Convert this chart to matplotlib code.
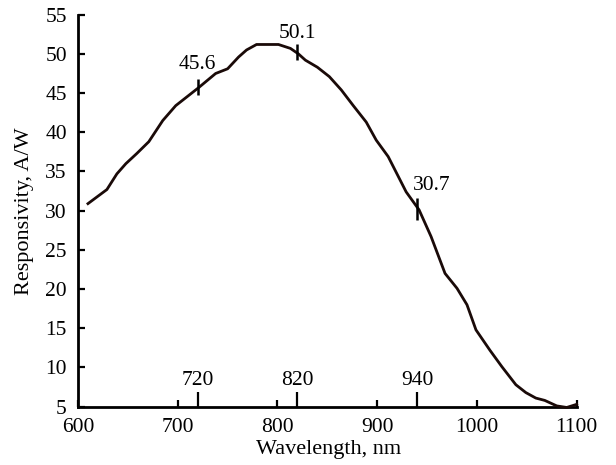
import matplotlib
matplotlib.use("Agg")
import matplotlib.pyplot as plt

plt.rcParams['font.family'] = ['Liberation Serif', 'DejaVu Serif']

wavelength = [610, 629, 639, 648, 659, 671, 685, 698, 721, 738, 750, 761, 769, 779,
              801, 813, 821, 828, 840, 852, 864, 876, 889, 899, 911, 929, 942, 954,
              968, 980, 990, 999, 1013, 1025, 1039, 1049, 1059, 1068, 1080, 1090, 1100]
responsivity = [30.9, 32.7, 34.7, 36.0, 37.3, 38.8, 41.5, 43.4, 45.7, 47.5, 48.1, 49.6, 50.5, 51.2,
                51.2, 50.7, 50.0, 49.2, 48.3, 47.1, 45.4, 43.4, 41.3, 39.0, 36.9, 32.4, 30.1, 26.7,
                22.0, 20.1, 18.0, 14.8, 12.2, 10.1, 7.8, 6.8, 6.1, 5.8, 5.1, 4.9, 5.3]

marked_wl = [720, 820, 940]
marked_y = [45.8, 50.3, 30.2]
marked_labels = ["45.6", "50.1", "30.7"]

x_major = [700, 800, 900, 1000, 1100]
x_special = [720, 820, 940]
y_ticks = [5, 10, 15, 20, 25, 30, 35, 40, 45, 50, 55]

FS = 15.5
LFS = 16

fig = plt.figure(figsize=(6.16, 4.65), dpi=100)
ax = fig.add_axes([0.1266, 0.1254, 0.8096, 0.843])

ax.plot(wavelength, responsivity, color='#1a0a08', lw=2.0, solid_joinstyle='round',
        clip_on=False, zorder=3)

mark_sizes = [11, 11, 16.5]
label_offsets = [(0, 12.5), (0, 9.5), (-3, 13.7)]
label_has = ['center', 'center', 'left']
for wl, yv, lab, ms, off, ha in zip(marked_wl, marked_y, marked_labels,
                                     mark_sizes, label_offsets, label_has):
    ax.plot([wl], [yv], ls='none', marker='|', markersize=ms, markeredgewidth=1.8,
            color='black', zorder=4)
    ax.annotate(lab, (wl, yv), xytext=off, textcoords='offset points',
                ha=ha, va='baseline', fontsize=FS)

ax.set_xlim(600, 1100)
ax.set_ylim(5, 55)
for s in ['top', 'right']:
    ax.spines[s].set_visible(False)
for s in ['left', 'bottom']:
    ax.spines[s].set_linewidth(2.0)

ax.set_xticks([600] + x_major)
ax.set_xticks(x_special, minor=True)
ax.set_yticks(y_ticks)
ax.tick_params(axis='x', which='major', direction='in', length=5, width=1.6,
               labelsize=FS, pad=8)
ax.tick_params(axis='x', which='minor', direction='in', length=11, width=1.6)
ax.tick_params(axis='y', which='major', direction='in', length=5, width=1.6,
               labelsize=FS, pad=8)
for wl in x_special:
    ax.annotate(str(wl), (wl, 5), xytext=(0, 15.5), textcoords='offset points',
                ha='center', va='baseline', fontsize=FS)

ax.set_xlabel('Wavelength, nm', fontsize=LFS)
ax.xaxis.label.set_verticalalignment('baseline')
ax.xaxis.set_label_coords(0.503, -0.12)
ax.set_ylabel('Responsivity, A/W', fontsize=LFS)
ax.yaxis.label.set_verticalalignment('center')
ax.yaxis.set_label_coords(-0.108, 0.5)

fig.savefig('out.png', dpi=100)
